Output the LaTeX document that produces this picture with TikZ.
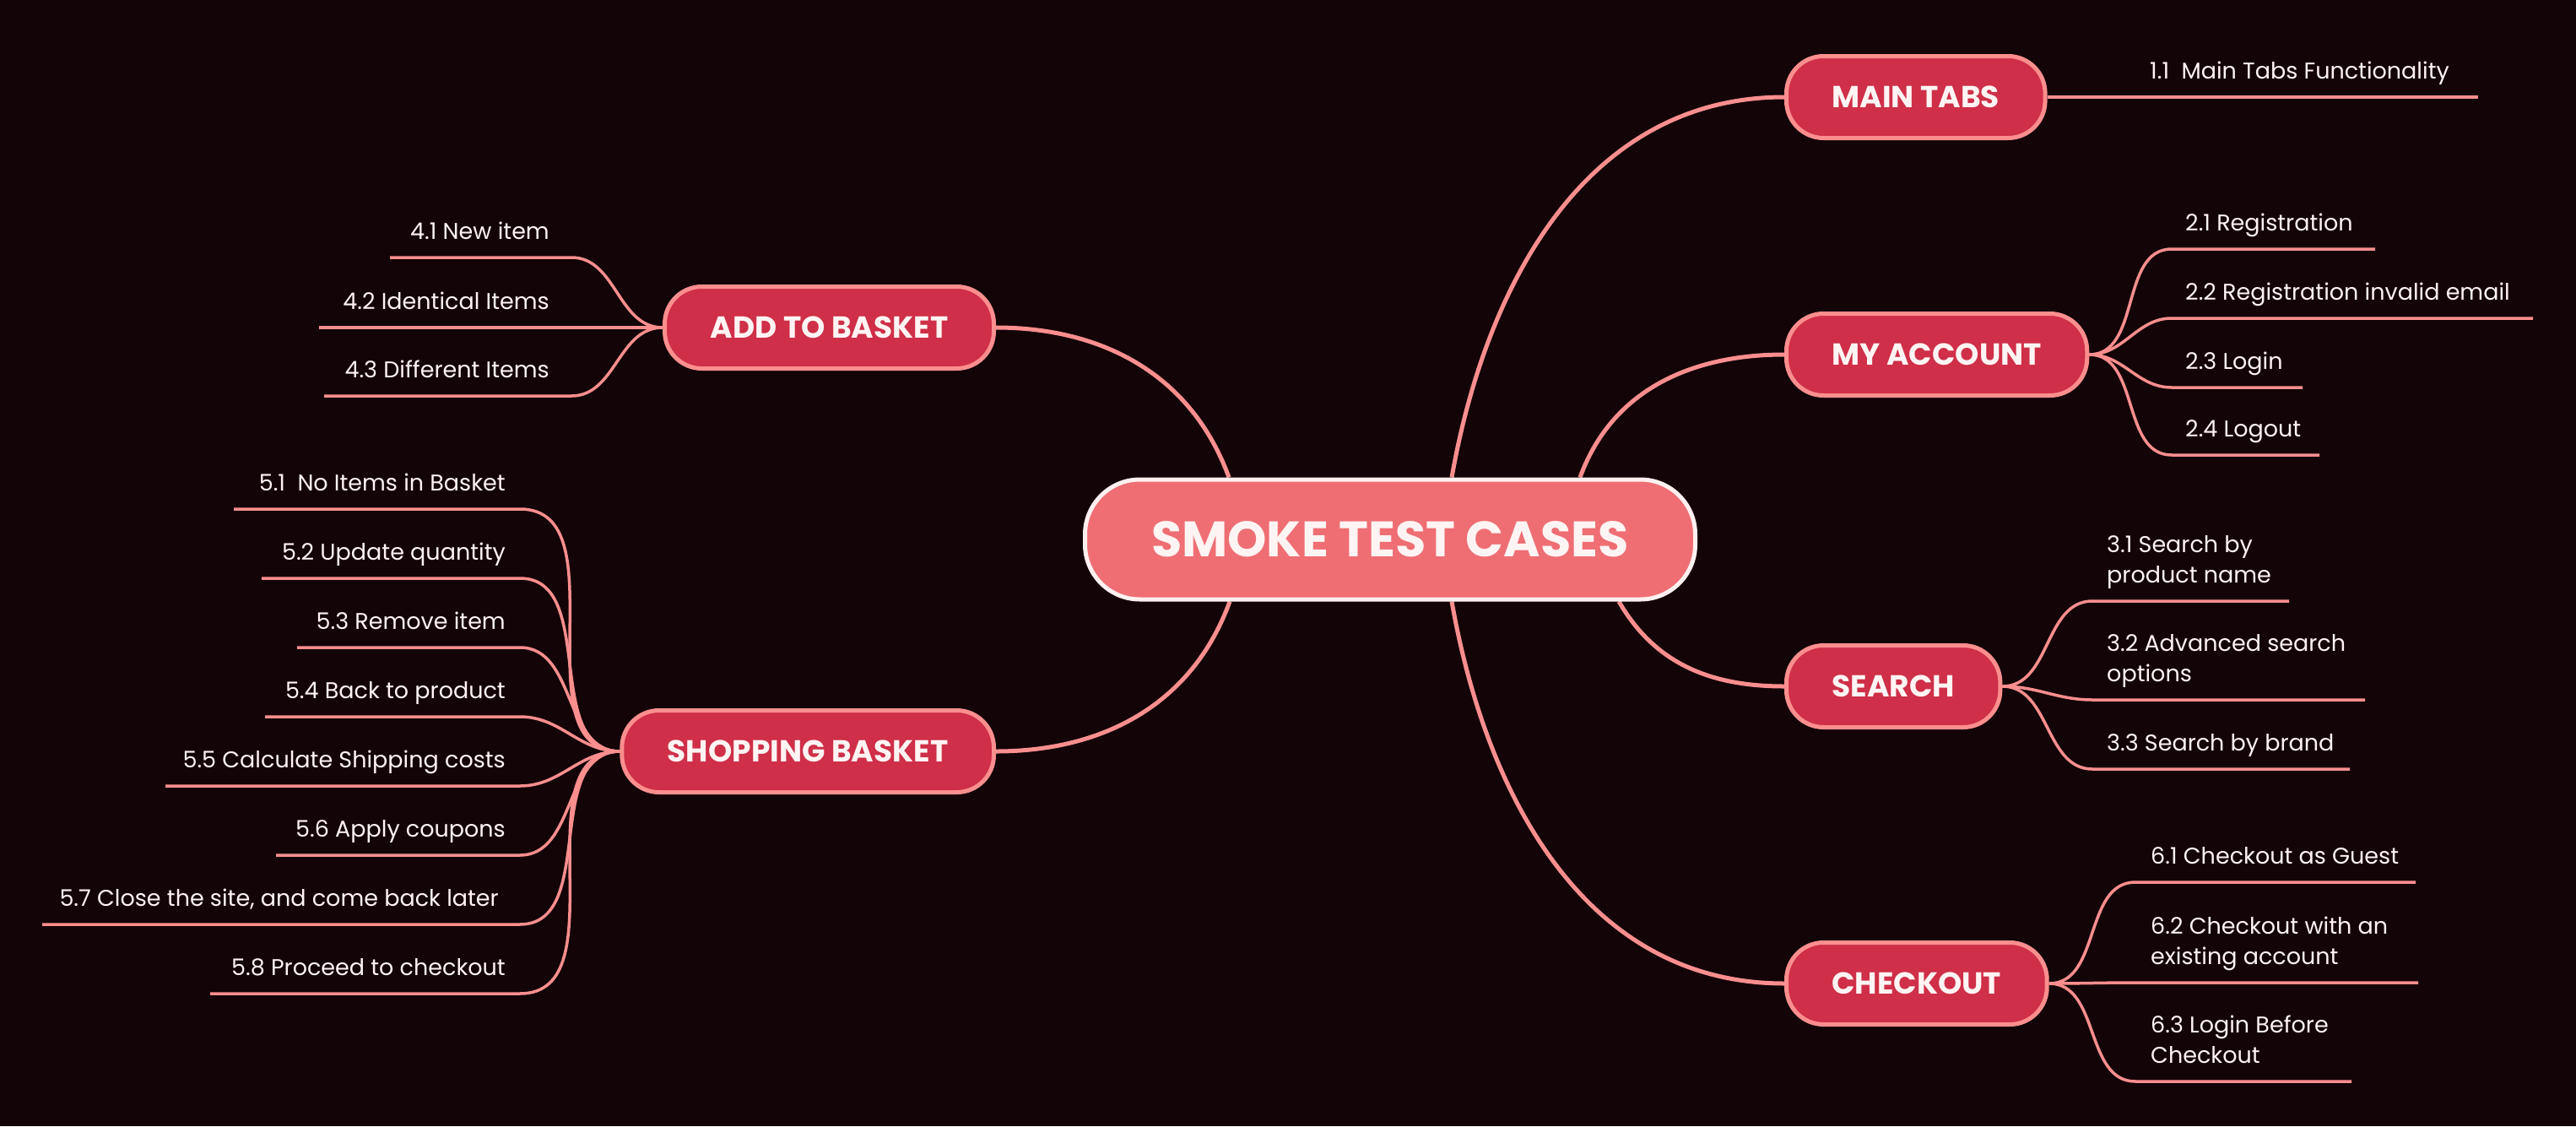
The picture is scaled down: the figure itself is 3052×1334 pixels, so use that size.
\documentclass[tikz,border=0pt]{standalone}
\usepackage{fontspec}
\setmainfont{Poppins}
\usepackage{tikz}
\usetikzlibrary{positioning}
\definecolor{bgcol}{HTML}{130408}
\definecolor{rootfill}{HTML}{EF6E74}
\definecolor{rootline}{HTML}{FFF0F0}
\definecolor{topicfill}{HTML}{CF2F48}
\definecolor{edgecol}{HTML}{FB8E8E}
\definecolor{txt}{HTML}{FFF4F4}
\pgfdeclarelayer{canvas}
\pgfdeclarelayer{background}
\pgfsetlayers{canvas,background,main}
\tikzstyle{root} = [rectangle, rounded corners=65pt, draw=rootline, line width=5pt, fill=rootfill, text=txt, font=\fontsize{59}{62}\selectfont\bfseries, minimum width=723pt, minimum height=142pt]
\tikzstyle{topic} = [rectangle, rounded corners=44pt, draw=edgecol, line width=5pt, fill=topicfill, text=txt, font=\fontsize{36}{40}\selectfont\bfseries, minimum height=97pt, inner xsep=54pt]
\tikzstyle{leaf} = [inner sep=0pt, text=txt, font=\fontsize{27}{36}\selectfont, align=left]
\tikzstyle{trunk} = [draw=edgecol, line width=5pt]
\tikzstyle{twig} = [draw=edgecol, line width=3.5pt]

\begin{document}
\begin{tikzpicture}[x=1pt, y=1pt]

\useasboundingbox (0,0) rectangle (3052,-1334);
\begin{pgfonlayer}{canvas}
\fill[bgcol] (0,0) rectangle (3052,-1334);
\end{pgfonlayer}

% topics =============================

\node[root] (root) at (1647,-639) {SMOKE TEST CASES};

\node[topic, anchor=west] (tabs) at (2114,-115) {MAIN TABS};
\node[topic, anchor=west] (acct) at (2114,-420) {MY ACCOUNT};
\node[topic, anchor=west] (srch) at (2114,-813) {SEARCH};
\node[topic, anchor=west] (chk) at (2114,-1165) {CHECKOUT};
\node[topic, anchor=east] (add) at (1180,-388) {ADD TO BASKET};
\node[topic, anchor=east] (shop) at (1180,-890) {SHOPPING BASKET};

% leaves: inner and outer end of each underline
\coordinate (l11i) at (2531,-115); \coordinate (l11o) at (2936,-115);

\coordinate (l21i) at (2573,-295); \coordinate (l21o) at (2814,-295);
\coordinate (l22i) at (2573,-377); \coordinate (l22o) at (3001,-377);
\coordinate (l23i) at (2573,-459); \coordinate (l23o) at (2728,-459);
\coordinate (l24i) at (2573,-539); \coordinate (l24o) at (2748,-539);

\coordinate (l31i) at (2479,-712); \coordinate (l31o) at (2712,-712);
\coordinate (l32i) at (2479,-829); \coordinate (l32o) at (2802,-829);
\coordinate (l33i) at (2479,-911); \coordinate (l33o) at (2784,-911);

\coordinate (l61i) at (2530,-1045); \coordinate (l61o) at (2862,-1045);
\coordinate (l62i) at (2530,-1164); \coordinate (l62o) at (2865,-1164);
\coordinate (l63i) at (2530,-1281); \coordinate (l63o) at (2786,-1281);

\coordinate (l41i) at (677,-305); \coordinate (l41o) at (462,-305);
\coordinate (l42i) at (677,-388); \coordinate (l42o) at (378,-388);
\coordinate (l43i) at (677,-469); \coordinate (l43o) at (384,-469);

\coordinate (l51i) at (616,-603); \coordinate (l51o) at (277,-603);
\coordinate (l52i) at (616,-685); \coordinate (l52o) at (310,-685);
\coordinate (l53i) at (616,-767); \coordinate (l53o) at (352,-767);
\coordinate (l54i) at (616,-849); \coordinate (l54o) at (314,-849);
\coordinate (l55i) at (616,-931); \coordinate (l55o) at (196,-931);
\coordinate (l56i) at (616,-1013); \coordinate (l56o) at (327,-1013);
\coordinate (l57i) at (616,-1095); \coordinate (l57o) at (50,-1095);
\coordinate (l58i) at (616,-1177); \coordinate (l58o) at (249,-1177);

% leaf texts
\node[leaf, above right=22pt and 16pt of l11i, anchor=base west] (l11) {1.1~ Main Tabs Functionality};

\node[leaf, above right=22pt and 16pt of l21i, anchor=base west] (l21) {2.1 Registration};
\node[leaf, above right=22pt and 16pt of l22i, anchor=base west] (l22) {2.2 Registration invalid email};
\node[leaf, above right=22pt and 16pt of l23i, anchor=base west] (l23) {2.3 Login};
\node[leaf, above right=22pt and 16pt of l24i, anchor=base west] (l24) {2.4 Logout};

\node[leaf, above right=22pt and 17pt of l31i, anchor=base west] (l31) {3.1 Search by\\product name};
\node[leaf, above right=22pt and 17pt of l32i, anchor=base west] (l32) {3.2 Advanced search\\options};
\node[leaf, above right=22pt and 17pt of l33i, anchor=base west] (l33) {3.3 Search by brand};

\node[leaf, above right=22pt and 18pt of l61i, anchor=base west] (l61) {6.1 Checkout as Guest};
\node[leaf, above right=22pt and 18pt of l62i, anchor=base west] (l62) {6.2 Checkout with an\\existing account};
\node[leaf, above right=22pt and 18pt of l63i, anchor=base west] (l63) {6.3 Login Before\\Checkout};

\node[leaf, above left=22pt and 26pt of l41i, anchor=base east] (l41) {4.1 New item};
\node[leaf, above left=22pt and 26pt of l42i, anchor=base east] (l42) {4.2 Identical Items};
\node[leaf, above left=22pt and 26pt of l43i, anchor=base east] (l43) {4.3 Different Items};

\node[leaf, above left=22pt and 17pt of l51i, anchor=base east] (l51) {5.1~ No Items in Basket};
\node[leaf, above left=22pt and 17pt of l52i, anchor=base east] (l52) {5.2 Update quantity};
\node[leaf, above left=22pt and 17pt of l53i, anchor=base east] (l53) {5.3 Remove item};
\node[leaf, above left=22pt and 17pt of l54i, anchor=base east] (l54) {5.4 Back to product};
\node[leaf, above left=22pt and 17pt of l55i, anchor=base east] (l55) {5.5 Calculate Shipping costs};
\node[leaf, above left=22pt and 17pt of l56i, anchor=base east] (l56) {5.6 Apply coupons};
\node[leaf, above left=22pt and 25pt of l57i, anchor=base east] (l57) {5.7 Close the site, and come back later};
\node[leaf, above left=22pt and 17pt of l58i, anchor=base east] (l58) {5.8 Proceed to checkout};

%edges
\begin{pgfonlayer}{background}
\path[trunk] ([xshift=73pt]root.north) to[out=80,in=180] (tabs.west);
\path[trunk] ([xshift=225pt]root.north) to[out=70,in=180] (acct.west);
\path[trunk] ([xshift=271pt]root.south) to[out=-60,in=180] (srch.west);
\path[trunk] ([xshift=73pt]root.south) to[out=-80,in=180] (chk.west);
\path[trunk] ([xshift=-191pt]root.north) to[out=110,in=0] (add.east);
\path[trunk] ([xshift=-190pt]root.south) to[out=-110,in=0] (shop.east);

\path[twig] (tabs.east) -- (l11i) -- (l11o);

\path[twig] (acct.east) to[out=0,in=180] (l21i) -- (l21o);
\path[twig] (acct.east) to[out=0,in=180] (l22i) -- (l22o);
\path[twig] (acct.east) to[out=0,in=180] (l23i) -- (l23o);
\path[twig] (acct.east) to[out=0,in=180] (l24i) -- (l24o);

\path[twig] (srch.east) to[out=0,in=180] (l31i) -- (l31o);
\path[twig] (srch.east) to[out=0,in=180] (l32i) -- (l32o);
\path[twig] (srch.east) to[out=0,in=180] (l33i) -- (l33o);

\path[twig] (chk.east) to[out=0,in=180] (l61i) -- (l61o);
\path[twig] (chk.east) to[out=0,in=180] (l62i) -- (l62o);
\path[twig] (chk.east) to[out=0,in=180] (l63i) -- (l63o);

\path[twig] (add.west) to[out=180,in=0] (l41i) -- (l41o);
\path[twig] (add.west) to[out=180,in=0] (l42i) -- (l42o);
\path[twig] (add.west) to[out=180,in=0] (l43i) -- (l43o);

\path[twig] (shop.west) to[out=180,in=0] (l51i) -- (l51o);
\path[twig] (shop.west) to[out=180,in=0] (l52i) -- (l52o);
\path[twig] (shop.west) to[out=180,in=0] (l53i) -- (l53o);
\path[twig] (shop.west) to[out=180,in=0] (l54i) -- (l54o);
\path[twig] (shop.west) to[out=180,in=0] (l55i) -- (l55o);
\path[twig] (shop.west) to[out=180,in=0] (l56i) -- (l56o);
\path[twig] (shop.west) to[out=180,in=0] (l57i) -- (l57o);
\path[twig] (shop.west) to[out=180,in=0] (l58i) -- (l58o);
\end{pgfonlayer}

\end{tikzpicture}
\end{document}
